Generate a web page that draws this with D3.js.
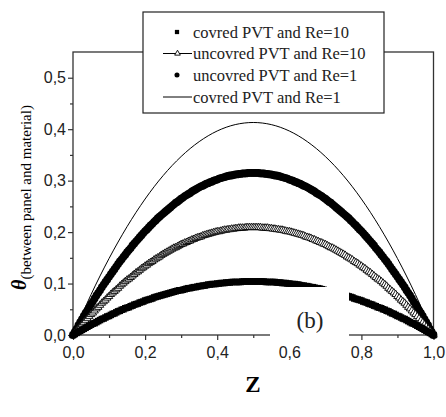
<!DOCTYPE html>
<html>
<head>
<meta charset="utf-8">
<script src="https://d3js.org/d3.v7.min.js"></script>
<style>
  body, html { margin: 0; padding: 0; background: #fff; }
  svg { display: block; }
  .tick text { font-family: "Liberation Sans", Arial, sans-serif; font-size: 16px; fill: #222; }
  .tick line { stroke: #333; stroke-width: 1.2px; }
</style>
</head>
<body>
<svg id="chart" width="446" height="417"></svg>
<script>
// z positions of the markers (0 .. 1, step 0.005)
const zValues = [
  0,0.005,0.01,0.015,0.02,0.025,0.03,0.035,0.04,0.045,0.05,0.055,0.06,0.065,0.07,0.075,0.08,0.085,0.09,0.095,
  0.1,0.105,0.11,0.115,0.12,0.125,0.13,0.135,0.14,0.145,0.15,0.155,0.16,0.165,0.17,0.175,0.18,0.185,0.19,0.195,
  0.2,0.205,0.21,0.215,0.22,0.225,0.23,0.235,0.24,0.245,0.25,0.255,0.26,0.265,0.27,0.275,0.28,0.285,0.29,0.295,
  0.3,0.305,0.31,0.315,0.32,0.325,0.33,0.335,0.34,0.345,0.35,0.355,0.36,0.365,0.37,0.375,0.38,0.385,0.39,0.395,
  0.4,0.405,0.41,0.415,0.42,0.425,0.43,0.435,0.44,0.445,0.45,0.455,0.46,0.465,0.47,0.475,0.48,0.485,0.49,0.495,
  0.5,0.505,0.51,0.515,0.52,0.525,0.53,0.535,0.54,0.545,0.55,0.555,0.56,0.565,0.57,0.575,0.58,0.585,0.59,0.595,
  0.6,0.605,0.61,0.615,0.62,0.625,0.63,0.635,0.64,0.645,0.65,0.655,0.66,0.665,0.67,0.675,0.68,0.685,0.69,0.695,
  0.7,0.705,0.71,0.715,0.72,0.725,0.73,0.735,0.74,0.745,0.75,0.755,0.76,0.765,0.77,0.775,0.78,0.785,0.79,0.795,
  0.8,0.805,0.81,0.815,0.82,0.825,0.83,0.835,0.84,0.845,0.85,0.855,0.86,0.865,0.87,0.875,0.88,0.885,0.89,0.895,
  0.9,0.905,0.91,0.915,0.92,0.925,0.93,0.935,0.94,0.945,0.95,0.955,0.96,0.965,0.97,0.975,0.98,0.985,0.99,0.995,1
];

// uncovred PVT, Re=1 (filled circles)
const uncoveredRe1 = [
  0,.006,.012,.019,.025,.031,.037,.043,.048,.054, .060,.065,.071,.077,.082,.087,.093,.098,.103,.108,
  .113,.118,.123,.128,.133,.138,.143,.147,.152,.156, .161,.165,.169,.174,.178,.182,.186,.190,.194,.198,
  .202,.205,.209,.213,.216,.220,.223,.227,.230,.233, .236,.239,.242,.245,.248,.251,.254,.257,.259,.262,
  .265,.267,.270,.272,.274,.276,.279,.281,.283,.285, .287,.289,.290,.292,.294,.295,.297,.298,.300,.301,
  .302,.304,.305,.306,.307,.308,.309,.310,.310,.311, .312,.312,.313,.313,.314,.314,.314,.315,.315,.315,
  .315,
  .315,.315,.315,.314,.314,.314,.313,.313,.312,.312, .311,.310,.310,.309,.308,.307,.306,.305,.304,.302,
  .301,.300,.298,.297,.295,.294,.292,.290,.289,.287, .285,.283,.281,.279,.276,.274,.272,.270,.267,.265,
  .262,.259,.257,.254,.251,.248,.245,.242,.239,.236, .233,.230,.227,.223,.220,.216,.213,.209,.205,.202,
  .198,.194,.190,.186,.182,.178,.174,.169,.165,.161, .156,.152,.147,.143,.138,.133,.128,.123,.118,.113,
  .108,.103,.098,.093,.087,.082,.077,.071,.065,.060, .054,.048,.043,.037,.031,.025,.019,.012,.006,0
];

// uncovred PVT, Re=10 (open triangles)
const uncoveredRe10 = [
  0,.004,.008,.012,.016,.020,.024,.028,.032,.036, .040,.043,.047,.051,.054,.058,.062,.065,.068,.072,
  .075,.079,.082,.085,.088,.091,.095,.098,.101,.104, .107,.109,.112,.115,.118,.121,.123,.126,.129,.131,
  .134,.136,.139,.141,.143,.146,.148,.150,.152,.155, .157,.159,.161,.163,.165,.167,.169,.170,.172,.174,
  .176,.177,.179,.180,.182,.183,.185,.186,.188,.189, .190,.191,.193,.194,.195,.196,.197,.198,.199,.200,
  .201,.201,.202,.203,.204,.204,.205,.205,.206,.206, .207,.207,.208,.208,.208,.208,.209,.209,.209,.209,
  .209,
  .209,.209,.209,.209,.208,.208,.208,.208,.207,.207, .206,.206,.205,.205,.204,.204,.203,.202,.201,.201,
  .200,.199,.198,.197,.196,.195,.194,.193,.191,.190, .189,.188,.186,.185,.183,.182,.180,.179,.177,.176,
  .174,.172,.170,.169,.167,.165,.163,.161,.159,.157, .155,.152,.150,.148,.146,.143,.141,.139,.136,.134,
  .131,.129,.126,.123,.121,.118,.115,.112,.109,.107, .104,.101,.098,.095,.091,.088,.085,.082,.079,.075,
  .072,.068,.065,.062,.058,.054,.051,.047,.043,.040, .036,.032,.028,.024,.020,.016,.012,.008,.004,0
];

// covred PVT, Re=10 (filled squares)
const coveredRe10 = [
  0,.002,.004,.006,.008,.010,.012,.014,.016,.018, .020,.022,.023,.025,.027,.029,.031,.032,.034,.036,
  .037,.039,.041,.042,.044,.046,.047,.049,.050,.052, .053,.054,.056,.057,.059,.060,.061,.063,.064,.065,
  .067,.068,.069,.070,.071,.073,.074,.075,.076,.077, .078,.079,.080,.081,.082,.083,.084,.085,.086,.087,
  .087,.088,.089,.090,.091,.091,.092,.093,.093,.094, .095,.095,.096,.096,.097,.098,.098,.099,.099,.099,
  .100,.100,.101,.101,.101,.102,.102,.102,.103,.103, .103,.103,.103,.103,.104,.104,.104,.104,.104,.104,
  .104,
  .104,.104,.104,.104,.104,.104,.103,.103,.103,.103, .103,.103,.102,.102,.102,.101,.101,.101,.100,.100,
  .099,.099,.099,.098,.098,.097,.096,.096,.095,.095, .094,.093,.093,.092,.091,.091,.090,.089,.088,.087,
  .087,.086,.085,.084,.083,.082,.081,.080,.079,.078, .077,.076,.075,.074,.073,.071,.070,.069,.068,.067,
  .065,.064,.063,.061,.060,.059,.057,.056,.054,.053, .052,.050,.049,.047,.046,.044,.042,.041,.039,.037,
  .036,.034,.032,.031,.029,.027,.025,.023,.022,.020, .018,.016,.014,.012,.010,.008,.006,.004,.002,0
];

// covred PVT, Re=1 (thin line)
const lineZ = [0,0.05,0.10,0.15,0.20,0.25,0.30,0.35,0.40,0.45,0.50,0.55,0.60,0.65,0.70,0.75,0.80,0.85,0.90,0.95,1.00];
const coveredRe1 = [0,0.0785,0.1487,0.2106,0.2643,0.3098,0.3469,0.3758,0.3965,0.4089,0.4130,
  0.4089,0.3965,0.3758,0.3469,0.3098,0.2643,0.2106,0.1487,0.0785,0];

const xMajor = [0,0.2,0.4,0.6,0.8,1.0];
const xMinor = [0.1,0.3,0.5,0.7,0.9];
const xTickLabels = ["0,0","0,2","0,4","0,6","0,8","1,0"];
const yMajor = [0,0.1,0.2,0.3,0.4,0.5];
const yMinor = [0.05,0.15,0.25,0.35,0.45];
const yTickLabels = ["0,0","0,1","0,2","0,3","0,4","0,5"];

const legendLabels = ["covred PVT and Re=10","uncovred PVT and Re=10","uncovred PVT and Re=1","covred PVT and Re=1"];

const serif = "Liberation Serif";
const svg = d3.select("#chart");
const plotLeft = 73, plotRight = 433.5, plotTop = 52, plotBottom = 335;

const x = d3.scaleLinear().domain([0, 1]).range([plotLeft, plotRight]);
const y = d3.scaleLinear().domain([0, 0.55]).range([plotBottom, plotTop]);

// axes: major ticks with labels, minor ticks without
svg.append("g").attr("transform", `translate(0,${plotBottom})`)
  .call(d3.axisBottom(x).tickValues(xMajor).tickSize(5).tickPadding(7)
    .tickFormat((d, i) => xTickLabels[i]));
svg.append("g").attr("transform", `translate(0,${plotBottom})`)
  .call(d3.axisBottom(x).tickValues(xMinor).tickSize(3).tickFormat(""));
svg.append("g").attr("transform", `translate(${plotLeft},0)`)
  .call(d3.axisLeft(y).tickValues(yMajor).tickSize(5).tickPadding(2)
    .tickFormat((d, i) => yTickLabels[i]));
svg.append("g").attr("transform", `translate(${plotLeft},0)`)
  .call(d3.axisLeft(y).tickValues(yMinor).tickSize(3).tickFormat(""));
svg.selectAll(".domain").remove();

// plot frame
svg.append("rect")
  .attr("x", plotLeft).attr("y", plotTop)
  .attr("width", plotRight - plotLeft).attr("height", plotBottom - plotTop)
  .attr("fill", "none").attr("stroke", "#333").attr("stroke-width", 1.3);

// thin line
const line = d3.line().x((d, i) => x(lineZ[i])).y(d => y(d)).curve(d3.curveNatural);
svg.append("path").datum(coveredRe1)
  .attr("d", line).attr("fill", "none").attr("stroke", "#000").attr("stroke-width", 1);

// markers
svg.append("g").selectAll("path").data(uncoveredRe1).join("path")
  .attr("d", d3.symbol(d3.symbolCircle, 48))
  .attr("transform", (d, i) => `translate(${x(zValues[i])},${y(d)})`)
  .attr("fill", "#000");

svg.append("g").selectAll("path").data(uncoveredRe10).join("path")
  .attr("d", d3.symbol(d3.symbolTriangle, 24))
  .attr("transform", (d, i) => `translate(${x(zValues[i])},${y(d)})`)
  .attr("fill", "#fff").attr("stroke", "#000").attr("stroke-width", 0.9);

svg.append("g").selectAll("path").data(coveredRe10).join("path")
  .attr("d", d3.symbol(d3.symbolSquare, 42))
  .attr("transform", (d, i) => `translate(${x(zValues[i])},${y(d)})`)
  .attr("fill", "#000");

// white patch behind the panel tag
svg.append("rect").attr("x", 270).attr("y", 287).attr("width", 79).attr("height", 54).attr("fill", "#fff");
svg.append("text").attr("font-family", serif)
  .attr("x", 310).attr("y", 328).attr("text-anchor", "middle")
  .attr("font-size", 23).attr("fill", "#222").text("(b)");

// axis titles
svg.append("text").attr("font-family", serif)
  .attr("x", 253).attr("y", 392).attr("text-anchor", "middle")
  .attr("font-size", 23).attr("font-weight", "bold").text("Z");

const yt = svg.append("text").attr("font-family", serif)
  .attr("transform", "translate(26,290) rotate(-90)");
yt.append("tspan").attr("font-size", 20).attr("font-weight", "bold").attr("font-style", "italic").text("θ");
yt.append("tspan").attr("font-size", 15).attr("dy", 5).text("(between panel and material)");

// legend
const lg = svg.append("g");
lg.append("rect").attr("x", 143).attr("y", 12).attr("width", 241).attr("height", 101)
  .attr("fill", "#fff").attr("stroke", "#222").attr("stroke-width", 1.2);
const rowY = [32, 53.5, 75, 97];
lg.selectAll("text").data(legendLabels).join("text").attr("font-family", serif)
  .attr("x", 193).attr("y", (d, i) => rowY[i] + 5.5)
  .attr("font-size", 16.5).attr("fill", "#222").text(d => d);
lg.append("path").attr("d", d3.symbol(d3.symbolSquare, 18))
  .attr("transform", `translate(177,${rowY[0]})`).attr("fill", "#000");
lg.append("line").attr("x1", 163).attr("x2", 192).attr("y1", rowY[1]).attr("y2", rowY[1])
  .attr("stroke", "#000").attr("stroke-width", 1);
lg.append("path").attr("d", d3.symbol(d3.symbolTriangle, 14))
  .attr("transform", `translate(177.5,${rowY[1]})`).attr("fill", "#fff").attr("stroke", "#000").attr("stroke-width", 0.9);
lg.append("path").attr("d", d3.symbol(d3.symbolCircle, 20))
  .attr("transform", `translate(177,${rowY[2]})`).attr("fill", "#000");
lg.append("line").attr("x1", 163).attr("x2", 192).attr("y1", rowY[3]).attr("y2", rowY[3])
  .attr("stroke", "#000").attr("stroke-width", 1);
</script>
</body>
</html>
